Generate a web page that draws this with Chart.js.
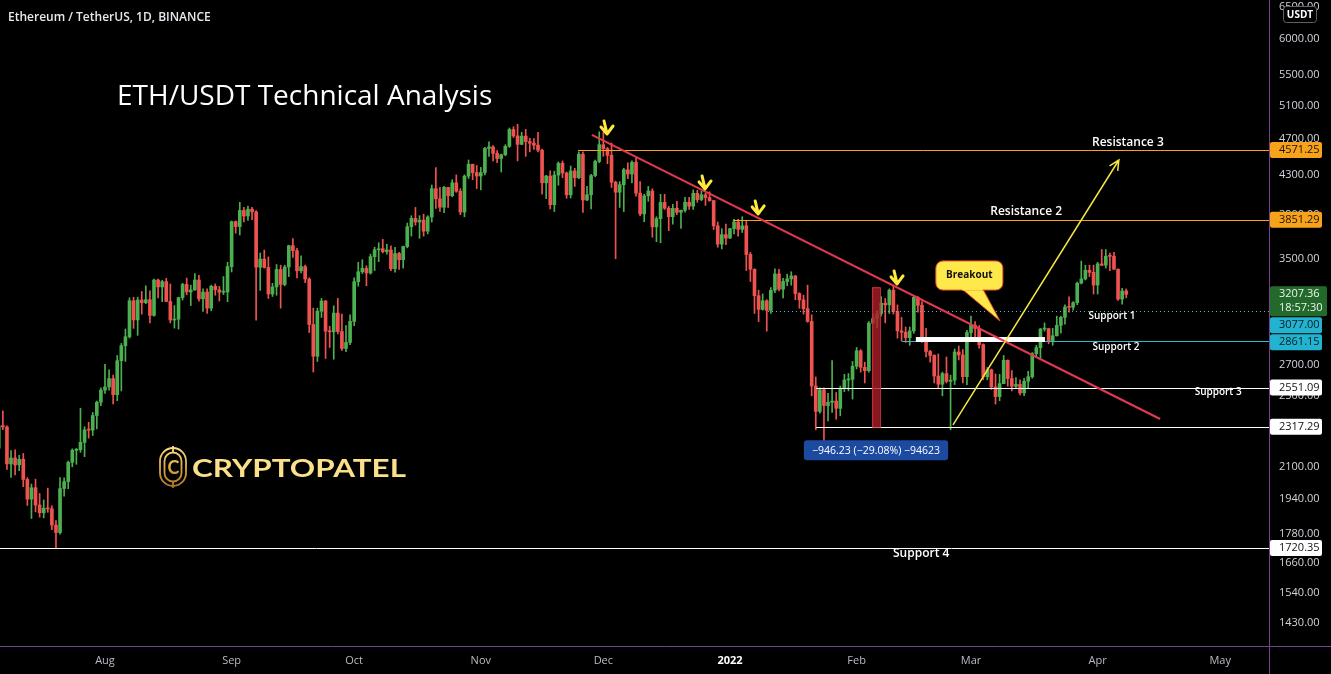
<!DOCTYPE html>
<html>
<head>
<meta charset="utf-8">
<title>ETH/USDT Technical Analysis</title>
<script src="https://cdn.jsdelivr.net/npm/chart.js@4.4.1/dist/chart.umd.min.js"></script>
<style>
  html, body { margin: 0; padding: 0; background: #000; }
  #wrap { width: 1331px; height: 674px; position: relative; }
</style>
</head>
<body>
<div id="wrap"><canvas id="chart"></canvas></div>
<script>
// daily candles ETH/USDT, index 0 = 2021-07-06
// Jul 6 .. Apr 8 (277 days)
const closes = [
  2323, 2316, 2115, 2146, 2110, 2139, 2036, 1940, 1995, 1912, 1876, 1897, 1894, 1820, 1787, 1991, 2025, 2123, 2187, 2190, 2230, 2299, 2298, 2382, 2461, 2535,
  2555, 2608, 2507, 2725, 2827, 2890, 3157, 3012, 3163, 3142, 3165, 3045, 3322, 3266, 3309, 3151, 3011, 3017, 3181, 3286, 3226, 3242, 3322, 3172, 3225, 3100, 3271, 3243, 3224, 3225, 3433,
  3834, 3788, 3941, 3887, 3953, 3927, 3428, 3497, 3426, 3210, 3266, 3409, 3285, 3430, 3614, 3570, 3398, 3433, 3330, 2978, 2755, 3077, 3155, 2930, 2925, 3063, 2927, 2808, 2850, 3001,
  3308, 3390, 3418, 3380, 3518, 3578, 3587, 3562, 3576, 3416, 3545, 3492, 3606, 3786, 3865, 3830, 3848, 3745, 3878, 4157, 4055, 3972, 4170, 4085, 4217, 4131, 3925, 4287, 4414, 4324, 4288,
  4325, 4588, 4606, 4533, 4476, 4518, 4612, 4807, 4732, 4635, 4730, 4666, 4648, 4626, 4569, 4217, 4288, 3997, 4298, 4424, 4320, 4095, 4342, 4270, 4524, 4043, 4095, 4293, 4444, 4631,
  4587, 4512, 4223, 4121, 4198, 4355, 4309, 4435, 4112, 3907, 4084, 4133, 3785, 3862, 4019, 3962, 3881, 3961, 3923, 3942, 4021, 3982, 4110, 4047, 4095, 4067, 4037, 3794, 3628, 3713, 3682,
  3769, 3830, 3762, 3795, 3537, 3411, 3196, 3091, 3157, 3083, 3239, 3372, 3248, 3310, 3331, 3355, 3213, 3164, 3096, 3001, 2561, 2406, 2537, 2441, 2460, 2468, 2424, 2547, 2599, 2603, 2688,
  2792, 2681, 2659, 2988, 3022, 3058, 3138, 3125, 3240, 3075, 2932, 2922, 2883, 2932, 3183, 3122, 2885, 2787, 2761, 2624, 2572, 2640, 2590, 2598, 2784, 2764, 2620, 2920,
  2973, 2950, 2835, 2619, 2665, 2555, 2495, 2576, 2728, 2608, 2559, 2571, 2518, 2591, 2620, 2772, 2814, 2945, 2948, 2860, 2897, 2972, 3031, 3109, 3107, 3142, 3296, 3331, 3402, 3385, 3281,
  3456, 3445, 3522, 3521, 3411, 3170, 3234, 3207
];
const highs = [
  2347, 2410, 2323, 2186, 2190, 2160, 2170, 2045, 2013, 2037, 1967, 1936, 1993, 1908, 1840, 2045, 2044, 2130, 2195, 2197, 2425, 2317, 2343, 2400, 2468, 2550,
  2700, 2665, 2630, 2760, 2843, 2945, 3180, 3185, 3185, 3230, 3275, 3235, 3330, 3330, 3320, 3335, 3290, 3120, 3185, 3295, 3338, 3280, 3375, 3360, 3250, 3250, 3280, 3290, 3270, 3350, 3470,
  3840, 3840, 4020, 3970, 3982, 3970, 3940, 3550, 3575, 3516, 3295, 3450, 3445, 3445, 3618, 3677, 3590, 3525, 3445, 3340, 3100, 3100, 3175, 3160, 2965, 3118, 3175, 3056, 2970, 3050,
  3340, 3470, 3492, 3440, 3540, 3600, 3640, 3670, 3625, 3612, 3600, 3555, 3610, 3820, 3890, 3970, 3890, 3905, 3890, 4195, 4378, 4170, 4180, 4170, 4250, 4300, 4157, 4300, 4460, 4415, 4400,
  4380, 4600, 4665, 4620, 4565, 4525, 4630, 4825, 4840, 4868, 4775, 4808, 4705, 4700, 4773, 4580, 4295, 4343, 4340, 4440, 4450, 4330, 4395, 4370, 4550, 4550, 4180, 4305, 4460, 4780,
  4778, 4600, 4650, 4235, 4230, 4370, 4430, 4450, 4480, 4230, 4100, 4180, 4155, 3880, 4100, 4100, 3980, 4000, 4030, 3945, 4070, 4070, 4145, 4140, 4130, 4110, 4125, 4040, 3830, 3768, 3810,
  3770, 3855, 3855, 3880, 3845, 3555, 3414, 3240, 3210, 3165, 3260, 3415, 3410, 3335, 3370, 3390, 3360, 3220, 3200, 3280, 3050, 2618, 2550, 2550, 2515, 2725, 2520, 2560, 2635, 2640, 2720,
  2815, 2800, 2715, 3000, 3055, 3080, 3190, 3175, 3250, 3280, 3125, 3030, 2960, 2960, 3200, 3190, 3150, 2950, 2795, 2765, 2770, 2650, 2750, 2630, 2805, 2825, 2800, 2935,
  3040, 3000, 2970, 2840, 2680, 2670, 2638, 2635, 2760, 2730, 2660, 2615, 2600, 2610, 2655, 2780, 2830, 2950, 2990, 2950, 2950, 3040, 3040, 3125, 3188, 3150, 3305, 3480, 3445, 3445, 3445,
  3470, 3580, 3580, 3550, 3555, 3415, 3255, 3250
];
const lows = [
  2191, 2300, 2086, 2046, 2059, 2080, 2000, 1910, 1850, 1880, 1856, 1853, 1878, 1800, 1718, 1780, 1954, 1990, 2100, 2113, 2176, 2153, 2253, 2268, 2305, 2440,
  2515, 2535, 2450, 2470, 2530, 2720, 2880, 2950, 2900, 3055, 3135, 2990, 3040, 3180, 3150, 3150, 2990, 2952, 2945, 3162, 3203, 3120, 3238, 3153, 3075, 3060, 3080, 3200, 3155, 3205, 3150,
  3388, 3727, 3710, 3830, 3845, 3852, 3010, 3238, 3420, 3175, 3190, 3200, 3100, 3275, 3350, 3512, 3340, 3380, 3300, 2920, 2650, 2720, 3030, 2740, 2815, 2735, 2910, 2795, 2786, 2835,
  2970, 3272, 3375, 3275, 3370, 3400, 3475, 3550, 3540, 3400, 3386, 3410, 3420, 3595, 3700, 3800, 3680, 3700, 3720, 3830, 3960, 3930, 3920, 3970, 4075, 4120, 3900, 3880, 4262, 4250, 4158,
  4145, 4300, 4500, 4450, 4430, 4330, 4507, 4600, 4713, 4450, 4630, 4500, 4550, 4577, 4550, 4100, 4055, 3955, 3930, 4192, 4270, 4060, 4063, 4180, 4260, 3922, 4036, 3955, 4280, 4430,
  4500, 4420, 4170, 3500, 3970, 3930, 4260, 4215, 4080, 3890, 3832, 4030, 3690, 3650, 3640, 3950, 3750, 3810, 3900, 3770, 3925, 3950, 3950, 4020, 4035, 3990, 4030, 3760, 3600, 3585, 3622,
  3680, 3720, 3700, 3733, 3400, 3310, 3060, 3000, 3085, 2930, 3060, 3220, 3235, 3180, 3275, 3280, 3165, 3100, 3055, 2995, 2500, 2300, 2395, 2160, 2350, 2400, 2360, 2380, 2526, 2530, 2480,
  2670, 2650, 2580, 2650, 2990, 2955, 3040, 2990, 3060, 3055, 2880, 2860, 2850, 2830, 2915, 3070, 2850, 2750, 2715, 2580, 2550, 2500, 2580, 2300, 2570, 2730, 2580, 2570,
  2860, 2860, 2810, 2600, 2600, 2540, 2450, 2470, 2575, 2560, 2530, 2550, 2505, 2500, 2545, 2610, 2755, 2740, 2930, 2840, 2830, 2895, 2915, 2980, 3070, 3085, 3126, 3290, 3322, 3350, 3210,
  3210, 3440, 3420, 3400, 3410, 3160, 3130, 3180
];
// each day opens at the previous day's close
const opens = [2198, ...closes.slice(0, -1)];

// x axis: day index of the first of each month
const monthIdx = [26, 57, 87, 118, 148, 179, 210, 238, 269, 299];
const monthNames = ['Aug', 'Sep', 'Oct', 'Nov', 'Dec', '2022', 'Feb', 'Mar', 'Apr', 'May'];
const priceTicks = [1430, 1540, 1660, 1780, 1940, 2100, 2300, 2500, 2700, 3500, 3900, 4300, 4700, 5100, 5500, 6000, 6500];

// horizontal levels: price, start day
const levelPrices = [4571.25, 3851.29, 3077.00, 2861.15, 2551.09, 2317.29, 1720.35];
const levelStarts = [141.8, 179.7, 188.3, 221.1, 200.1, 200.1, 0];
const levelColors = ['#f7a21b', '#f7a21b', '#4fc3d6', '#35b8c9', '#ffffff', '#ffffff', '#ffffff'];

const lastPrice = 3207.36;
const countdown = '18:57:30';

const GREEN = '#4caf50', RED = '#ef5350';
const candleColors = closes.map((c, i) => c >= opens[i] ? GREEN : RED);

const wickData = closes.map((c, i) => ({x: i, y: [lows[i], highs[i]]}));
const bodyData = closes.map((c, i) => ({x: i, y: [opens[i], c]}));

function rr(ctx, x, y, w, h, r) {
  ctx.beginPath();
  ctx.moveTo(x + r, y);
  ctx.arcTo(x + w, y, x + w, y + h, r);
  ctx.arcTo(x + w, y + h, x, y + h, r);
  ctx.arcTo(x, y + h, x, y, r);
  ctx.arcTo(x, y, x + w, y, r);
  ctx.closePath();
}

function downArrow(ctx, x, y) {
  ctx.strokeStyle = '#ffeb3b';
  ctx.lineWidth = 3;
  ctx.lineCap = 'round';
  ctx.lineJoin = 'round';
  ctx.beginPath();
  ctx.moveTo(x - 3, y - 13); ctx.lineTo(x, y);
  ctx.moveTo(x - 6, y - 7); ctx.lineTo(x, y); ctx.lineTo(x + 6, y - 8);
  ctx.stroke();
}

const overlay = {
  id: 'overlay',
  afterDatasetsDraw(chart) {
    const {ctx, chartArea: a, scales: {x, y}} = chart;
    const px = v => x.getPixelForValue(v);
    const py = v => y.getPixelForValue(v);
    ctx.save();
    ctx.beginPath();
    ctx.rect(a.left, a.top, a.right - a.left, a.bottom - a.top);
    ctx.clip();

    // level lines
    levelPrices.forEach((p, i) => {
      const yy = Math.round(py(p)) + 0.5;
      ctx.strokeStyle = levelColors[i];
      ctx.lineWidth = 1;
      ctx.setLineDash(p === 3077 ? [1, 3] : []);
      ctx.beginPath();
      ctx.moveTo(px(levelStarts[i]), yy);
      ctx.lineTo(a.right, yy);
      ctx.stroke();
    });
    ctx.setLineDash([]);

    // white zone on support 2
    ctx.fillStyle = '#ffffff';
    ctx.fillRect(px(224.5), py(2888), px(256.1) - px(224.5), py(2853) - py(2888));

    // price range box
    const rx1 = px(213.8), rx2 = px(215.7), ry1 = py(3263.52), ry2 = py(2317.29);
    ctx.fillStyle = 'rgba(170, 30, 40, 0.8)';
    ctx.fillRect(rx1, ry1, rx2 - rx1, ry2 - ry1);
    ctx.strokeStyle = '#d32f3a';
    ctx.strokeRect(rx1 + 0.5, ry1 + 0.5, rx2 - rx1, ry2 - ry1);

    // falling trendline
    ctx.strokeStyle = '#e33a52';
    ctx.lineWidth = 2;
    ctx.beginPath();
    ctx.moveTo(px(145.2), py(4743));
    ctx.lineTo(px(284.3), py(2361.6));
    ctx.stroke();

    // yellow target arrow
    const ax1 = px(233.6), ay1 = py(2327.8), ax2 = px(274.2), ay2 = py(4460);
    ctx.strokeStyle = '#f5e642';
    ctx.lineWidth = 1.5;
    ctx.beginPath();
    ctx.moveTo(ax1, ay1);
    ctx.lineTo(ax2, ay2);
    const ang = Math.atan2(ay2 - ay1, ax2 - ax1);
    ctx.moveTo(ax2 - 11 * Math.cos(ang - 0.45), ay2 - 11 * Math.sin(ang - 0.45));
    ctx.lineTo(ax2, ay2);
    ctx.lineTo(ax2 - 11 * Math.cos(ang + 0.45), ay2 - 11 * Math.sin(ang + 0.45));
    ctx.stroke();

    // touch arrows
    downArrow(ctx, px(148.9), py(4754));
    downArrow(ctx, px(172.9), py(4154));
    downArrow(ctx, px(185.9), py(3907));
    downArrow(ctx, px(219.9), py(3290));

    // breakout callout
    const bx1 = px(229.4), bx2 = px(245.8), by1 = py(3481), by2 = py(3241);
    ctx.fillStyle = '#ffe94a';
    ctx.strokeStyle = '#f0502a';
    ctx.lineWidth = 1;
    ctx.beginPath();
    ctx.moveTo(px(235.8), by2 - 1);
    ctx.lineTo(px(245.1), py(3004));
    ctx.lineTo(px(240.9), by2 - 1);
    ctx.closePath();
    ctx.fill();
    ctx.stroke();
    rr(ctx, bx1, by1, bx2 - bx1, by2 - by1, 7);
    ctx.fill();
    ctx.stroke();
    ctx.beginPath();
    ctx.moveTo(px(235.8) + 1, by2 - 0.5);
    ctx.lineTo(px(240.9) - 1, by2 - 0.5);
    ctx.strokeStyle = '#ffe94a';
    ctx.lineWidth = 2;
    ctx.stroke();
    ctx.fillStyle = '#111';
    ctx.font = 'bold 10px "Open Sans"';
    ctx.textAlign = 'center';
    ctx.textBaseline = 'middle';
    ctx.fillText('Breakout', (bx1 + bx2) / 2, (by1 + by2) / 2);

    // level names
    ctx.fillStyle = '#ffffff';
    ctx.font = '600 12px "Open Sans"';
    ctx.fillText('Resistance 3', px(276.4), py(4650));
    ctx.fillText('Resistance 2', px(251.5), py(3926));
    ctx.fillText('Support 4', px(225.8), py(1695.5));
    ctx.font = '600 10px "Open Sans"';
    ctx.fillText('Support 1', px(272.5), py(3041));
    ctx.fillText('Support 2', px(273.5), py(2818));
    ctx.fillText('Support 3', px(298.5), py(2523.6));

    // price range label
    const lx1 = px(197.1), lx2 = px(232.4), ly1 = py(2242), ly2 = py(2133.7);
    ctx.fillStyle = '#1c4aa0';
    rr(ctx, lx1, ly1, lx2 - lx1, ly2 - ly1, 3);
    ctx.fill();
    ctx.fillStyle = '#ffffff';
    ctx.font = '10.5px "Open Sans"';
    ctx.fillText('\u2212946.23 (\u221229.08%) \u221294623', (lx1 + lx2) / 2, (ly1 + ly2) / 2 + 0.5);
    ctx.restore();
  },
  afterDraw(chart) {
    const {ctx, chartArea: a, scales: {y}} = chart;
    const W = chart.width, H = chart.height;
    ctx.save();

    // axis separators
    ctx.strokeStyle = '#7a3f8f';
    ctx.lineWidth = 1;
    ctx.beginPath();
    ctx.moveTo(a.right + 0.5, 0); ctx.lineTo(a.right + 0.5, H);
    ctx.moveTo(0, a.bottom + 0.5); ctx.lineTo(W, a.bottom + 0.5);
    ctx.stroke();

    // price badges on the axis
    const badges = [
      {v: 4571.25, bg: '#f7a21b', fg: '#1a1206'},
      {v: 3851.29, bg: '#f7a21b', fg: '#1a1206'},
      {v: lastPrice, bg: '#24692c', fg: '#e8f5e9', sub: countdown},
      {v: 3077.00, bg: '#22b3d1', fg: '#0b1a20'},
      {v: 2861.15, bg: '#22b3d1', fg: '#0b1a20'},
      {v: 2551.09, bg: '#ffffff', fg: '#111111'},
      {v: 2317.29, bg: '#ffffff', fg: '#111111'},
      {v: 1720.35, bg: '#ffffff', fg: '#111111'}
    ];
    ctx.font = '11px "Open Sans"';
    ctx.textAlign = 'left';
    ctx.textBaseline = 'middle';
    let prevBottom = -100;
    badges.forEach(b => {
      const h = b.sub ? 30 : 16;
      let top = y.getPixelForValue(b.v) - 8;
      if (top < prevBottom + 1) top = prevBottom + 1;
      prevBottom = top + h;
      const w = b.sub ? 57 : 52;
      ctx.fillStyle = b.bg;
      rr(ctx, a.right + 1, top, w, h, 2);
      ctx.fill();
      ctx.fillStyle = b.fg;
      ctx.fillText(b.v.toFixed(2), a.right + 10, top + 8);
      if (b.sub) ctx.fillText(b.sub, a.right + 10, top + 22);
    });

    // currency tag
    ctx.fillStyle = '#000';
    rr(ctx, 1283.5, 6.5, 33, 16, 3);
    ctx.fill();
    ctx.strokeStyle = '#5d606b';
    ctx.stroke();
    ctx.fillStyle = '#ffffff';
    ctx.font = 'bold 10px "Open Sans"';
    ctx.textAlign = 'center';
    ctx.fillText('USDT', 1300, 15);

    // titles
    ctx.textAlign = 'left';
    ctx.textBaseline = 'alphabetic';
    ctx.fillStyle = '#e6e8ee';
    ctx.font = '600 12px "Open Sans"';
    ctx.fillText('Ethereum / TetherUS, 1D, BINANCE', 8, 21);
    ctx.fillStyle = '#ffffff';
    ctx.font = '28px "Open Sans"';
    ctx.fillText('ETH/USDT Technical Analysis', 117, 105);

    // logo
    const g = ctx.createLinearGradient(0, 446, 0, 488);
    g.addColorStop(0, '#fbe08a');
    g.addColorStop(0.5, '#dcaa40');
    g.addColorStop(1, '#a8741f');
    ctx.strokeStyle = g;
    ctx.fillStyle = g;
    ctx.lineWidth = 1.8;
    rr(ctx, 160, 448, 26, 38, 13);
    ctx.stroke();
    rr(ctx, 164.5, 452.5, 17, 29, 8.5);
    ctx.stroke();
    ctx.beginPath();
    ctx.moveTo(173, 446); ctx.lineTo(173, 452);
    ctx.moveTo(173, 482); ctx.lineTo(173, 488);
    ctx.stroke();
    ctx.font = 'bold 18px Lato';
    ctx.textAlign = 'center';
    ctx.fillText('C', 173.5, 473.5);
    ctx.textAlign = 'left';
    ctx.font = 'bold 25px Lato';
    const tw = ctx.measureText('CRYPTOPATEL').width;
    ctx.translate(192, 477);
    ctx.scale(214 / tw, 1);
    ctx.fillText('CRYPTOPATEL', 0, 0);
    ctx.restore();
  }
};

new Chart(document.getElementById('chart'), {
  type: 'bar',
  data: {
    datasets: [
      {data: bodyData, backgroundColor: candleColors, barThickness: 3, minBarLength: 1, grouped: false, order: 0},
      {data: wickData, backgroundColor: candleColors, barThickness: 1, grouped: false, order: 1}
    ]
  },
  options: {
    responsive: true,
    maintainAspectRatio: false,
    animation: false,
    layout: {padding: 0},
    plugins: {legend: {display: false}, tooltip: {enabled: false}},
    scales: {
      x: {
        type: 'linear',
        min: 0.3,
        max: 310.95,
        offset: false,
        grid: {display: false, drawTicks: false, offset: false},
        border: {display: false},
        afterBuildTicks: s => { s.ticks = monthIdx.map(v => ({value: v})); },
        afterFit: s => { s.height = 28; s.paddingLeft = 0; s.paddingRight = 0; },
        ticks: {
          autoSkip: false,
          maxRotation: 0,
          padding: 8,
          callback: v => monthNames[monthIdx.indexOf(v)],
          color: c => (c.tick && c.tick.value === 179) ? '#ffffff' : '#b8bbc4',
          font: c => (c.tick && c.tick.value === 179) ? {family: 'Open Sans', size: 11, weight: 'bold'} : {family: 'Open Sans', size: 11}
        }
      },
      y: {
        type: 'logarithmic',
        position: 'right',
        min: 1352.6,
        max: 6606,
        beginAtZero: false,
        grid: {display: false, drawTicks: false},
        border: {display: false},
        afterBuildTicks: s => { s.ticks = priceTicks.map(v => ({value: v})); },
        afterFit: s => { s.width = 62; s.paddingTop = 0; s.paddingBottom = 0; },
        ticks: {
          autoSkip: false,
          padding: 10,
          color: '#d1d4dc',
          font: {family: 'Open Sans', size: 11},
          callback: v => Number(v).toFixed(2)
        }
      }
    }
  },
  plugins: [overlay]
});
</script>
</body>
</html>
